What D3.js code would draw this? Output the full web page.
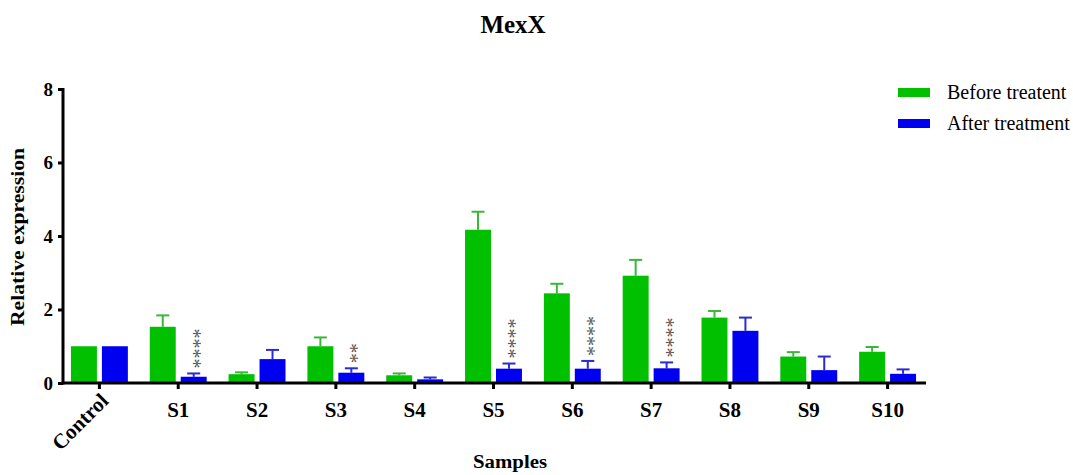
<!DOCTYPE html>
<html>
<head>
<meta charset="utf-8">
<script src="https://cdn.jsdelivr.net/npm/d3@7"></script>
<style>
  body { margin: 0; background: #fff; }
  text { font-family: "Liberation Serif", "Times New Roman", serif; }
</style>
</head>
<body>
<div id="chart"></div>
<script>
// chart data
var samples = ["Control", "S1", "S2", "S3", "S4", "S5", "S6", "S7", "S8", "S9", "S10"]
var beforeMean = [1.0, 1.53, 0.24, 1.0, 0.21, 4.17, 2.44, 2.92, 1.78, 0.72, 0.85]
var beforeErr  = [0, 0.31, 0.05, 0.24, 0.05, 0.49, 0.26, 0.43, 0.18, 0.12, 0.13]
var afterMean  = [1.0, 0.17, 0.65, 0.28, 0.10, 0.39, 0.39, 0.40, 1.42, 0.35, 0.25]
var afterErr   = [0, 0.09, 0.25, 0.12, 0.05, 0.14, 0.21, 0.16, 0.36, 0.37, 0.12]
var stars      = [0, 4, 0, 2, 0, 4, 4, 4, 0, 0, 0]
var yTicks = [0, 2, 4, 6, 8]
var seriesNames = ["Before treatent", "After treatment"]

var W = 1073, H = 475
var margin = {top: 89, left: 63, bottom: 92}
var colors = {bar: ["#00c000", "#0000f0"], err: ["#3cb53c", "#2b2bd2"]}

var svg = d3.select("#chart").append("svg")
  .attr("width", W).attr("height", H)

var y = d3.scaleLinear().domain([0, 8]).range([383, 89])
var x = d3.scaleBand().domain(samples).range([60, 927]).padding(0)
var xs = d3.scaleBand().domain([0, 1]).range([0, x.bandwidth()])
  .paddingInner(0.161).paddingOuter(0.354)

// title
svg.append("text")
  .attr("x", 513).attr("y", 33)
  .attr("text-anchor", "middle")
  .style("font-size", "25px").style("font-weight", "bold")
  .text("MexX")

// rows: one per sample
var rows = samples.map(function(s, i) {
  return {name: s, means: [beforeMean[i], afterMean[i]], errs: [beforeErr[i], afterErr[i]], stars: stars[i]}
})

var groups = svg.selectAll("g.grp").data(rows).enter().append("g")
  .attr("class", "grp")
  .attr("transform", function(d) { return "translate(" + x(d.name) + ",0)" })

var capW = 13
groups.each(function(d) {
  var g = d3.select(this)
  d.means.forEach(function(m, k) {
    var cx = xs(k) + xs.bandwidth() / 2
    if (d.errs[k] > 0) {
      g.append("line")
        .attr("x1", cx).attr("x2", cx)
        .attr("y1", y(m)).attr("y2", y(m + d.errs[k]))
        .attr("stroke", colors.err[k]).attr("stroke-width", 2)
      g.append("line")
        .attr("x1", cx - capW / 2).attr("x2", cx + capW / 2)
        .attr("y1", y(m + d.errs[k])).attr("y2", y(m + d.errs[k]))
        .attr("stroke", colors.err[k]).attr("stroke-width", 2)
    }
    g.append("rect")
      .attr("x", xs(k)).attr("width", xs.bandwidth())
      .attr("y", y(m)).attr("height", y(0) - y(m))
      .attr("fill", colors.bar[k])
  })
  // significance stars, written upward above the after-treatment bar
  if (d.stars > 0) {
    var cx = xs(1) + xs.bandwidth() / 2 + 2
    var top = y(d.means[1] + d.errs[1]) - 5
    g.append("text")
      .attr("transform", "translate(" + cx + "," + top + ") rotate(-90)")
      .attr("dy", "0.55em")
      .style("font-size", "20px")
      .style("fill", "#555")
      .text("*".repeat(d.stars))
  }
})

// y axis
var yAxis = svg.append("g")
  .attr("transform", "translate(" + margin.left + ",0)")
  .call(d3.axisLeft(y).tickValues(yTicks).tickSize(5).tickPadding(5).tickSizeOuter(0))
yAxis.select(".domain").attr("stroke-width", 3).attr("d", "M0," + (y(8) - 1) + "V" + (y(0) + 1.5))
yAxis.selectAll(".tick line").attr("stroke-width", 3)
yAxis.selectAll(".tick text")
  .style("font-family", "Liberation Serif").style("font-size", "19px").style("font-weight", "bold")
  .attr("dy", "0.34em")

// x axis
var xAxis = svg.append("g")
  .attr("transform", "translate(0," + y(0) + ")")
  .call(d3.axisBottom(x).tickSize(6).tickSizeOuter(0).tickPadding(13))
xAxis.select(".domain").attr("stroke-width", 3).attr("d", "M" + (margin.left - 1.5) + ",0H926")
xAxis.selectAll(".tick line").attr("stroke-width", 3)
xAxis.selectAll(".tick text")
  .style("font-family", "Liberation Serif").style("font-size", "21px").style("font-weight", "bold")
xAxis.selectAll(".tick text").filter(function(d) { return d == "Control" })
  .attr("text-anchor", "end")
  .attr("transform", "translate(5,14) rotate(-45)")
  .attr("dy", "0.35em").attr("y", 0).attr("x", 0)

// axis titles
svg.append("text")
  .attr("transform", "translate(24,237) rotate(-90)")
  .attr("text-anchor", "middle")
  .attr("textLength", 178).attr("lengthAdjust", "spacingAndGlyphs")
  .style("font-size", "19px").style("font-weight", "bold")
  .text("Relative expression")

svg.append("text")
  .attr("x", 510).attr("y", 468)
  .attr("text-anchor", "middle")
  .attr("textLength", 74).attr("lengthAdjust", "spacingAndGlyphs")
  .style("font-size", "18px").style("font-weight", "bold")
  .text("Samples")

// legend
var legend = svg.selectAll("g.leg").data(seriesNames).enter().append("g")
  .attr("class", "leg")
  .attr("transform", function(d, i) { return "translate(898," + (88 + i * 31) + ")" })
legend.append("rect")
  .attr("width", 32).attr("height", 9)
  .attr("fill", function(d, i) { return colors.bar[i] })
legend.append("text")
  .attr("x", 49).attr("y", 11)
  .style("font-size", "20px")
  .text(function(d) { return d })
</script>
</body>
</html>
